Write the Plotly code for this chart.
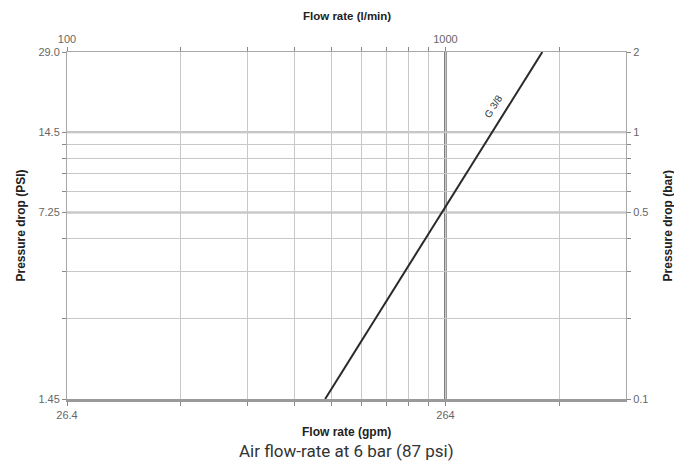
import math
import plotly.graph_objects as go

# ---- data ----
flow_lmin = [481, 1803]          # flow rate, l/min
dp_bar = [0.1, 2.0]              # pressure drop, bar
series_label = "G 3/8"
label_at_bar = 1.25

x_grid_lmin = [100, 200, 300, 400, 500, 600, 700, 800, 900, 1000, 2000]
x_top_text = ["100", "", "", "", "", "", "", "", "", "1000", ""]
x_bottom_text = ["26.4", "", "", "", "", "", "", "", "", "264", ""]
x_range_lmin = [100, 3000]

y_grid_bar = [0.1, 0.2, 0.3, 0.4, 0.5, 0.6, 0.7, 0.8, 0.9, 1, 2]
y_left_text = ["1.45", "", "", "", "7.25", "", "", "", "", "14.5", "29.0"]
y_right_text = ["0.1", "", "", "", "0.5", "", "", "", "", "1", "2"]
y_range_bar = [0.1, 2]

heavy_x = [1000]
medium_y = [0.5, 1]

FONT = "Liberation Sans"
TICK = dict(family=FONT, size=11, color="#666666")
TITLE = dict(family=FONT, size=12, color="#222222")

fig = go.Figure()
fig.add_trace(go.Scatter(x=flow_lmin, y=dp_bar, mode="lines",
                         line=dict(color="#2a2a2a", width=2),
                         hoverinfo="skip", showlegend=False))
# invisible trace to anchor the secondary axes
fig.add_trace(go.Scatter(x=flow_lmin, y=dp_bar, xaxis="x2", yaxis="y2",
                         mode="lines", opacity=0, hoverinfo="skip", showlegend=False))

# heavier gridlines
for xv in heavy_x:
    fig.add_shape(type="line", xref="x", yref="paper", x0=xv, x1=xv, y0=0, y1=1,
                  line=dict(color="#1a1a1a", width=2), layer="between")
for yv in medium_y:
    fig.add_shape(type="line", xref="paper", yref="y", x0=0, x1=1, y0=yv, y1=yv,
                  line=dict(color="#b0b0b0", width=2), layer="between")

# series label along the line
slope = math.log10(dp_bar[1] / dp_bar[0]) / math.log10(flow_lmin[1] / flow_lmin[0])
q_label = flow_lmin[0] * 10 ** (math.log10(label_at_bar / dp_bar[0]) / slope)
fig.add_annotation(x=math.log10(q_label), y=math.log10(label_at_bar), text=series_label,
                   showarrow=False, textangle=-58, xshift=-15,
                   font=dict(family=FONT, size=10, color="#333333"))

common_x = dict(type="log", range=[math.log10(v) for v in x_range_lmin],
                tickvals=x_grid_lmin, ticks="outside", ticklen=4, tickcolor="#888888",
                tickfont=TICK, zeroline=False)
common_y = dict(type="log", range=[math.log10(v) for v in y_range_bar],
                tickvals=y_grid_bar, ticks="outside", ticklen=4, tickcolor="#888888",
                tickfont=TICK, zeroline=False)

# page body has an 8px margin: figure is 674x455 so it fits the 682x463 window
fig.update_layout(
    width=674, height=455,
    margin=dict(l=59, r=56, t=44, b=64),
    paper_bgcolor="white", plot_bgcolor="white",
    showlegend=False,
    xaxis=dict(**common_x, ticktext=x_bottom_text, showgrid=True, gridcolor="#c8c8c8",
               gridwidth=1, showline=True, linecolor="#9a9a9a", linewidth=3),
    xaxis2=dict(**common_x, ticktext=x_top_text, overlaying="x", side="top",
                matches="x", showgrid=False, showline=True, linecolor="#a8a8a8", linewidth=1),
    yaxis=dict(**common_y, ticktext=y_left_text, showgrid=True, gridcolor="#c8c8c8",
               gridwidth=1, showline=True, linecolor="#a8a8a8", linewidth=1),
    yaxis2=dict(**common_y, ticktext=y_right_text, overlaying="y", side="right",
                matches="y", showgrid=False, showline=True, linecolor="#a8a8a8", linewidth=1),
)

fig.add_annotation(xref="paper", yref="paper", x=0.5, y=1.105, yanchor="middle",
                   text="<b>Flow rate (l/min)</b>", showarrow=False,
                   font=dict(family=FONT, size=11.5, color="#222222"))
fig.add_annotation(xref="paper", yref="paper", x=0.5, y=-0.095, yanchor="middle",
                   text="<b>Flow rate (gpm)</b>", showarrow=False, font=TITLE)
fig.add_annotation(xref="paper", yref="paper", x=-0.084, y=0.5, xanchor="center",
                   text="<b>Pressure drop (PSI)</b>", textangle=-90, showarrow=False, font=TITLE)
fig.add_annotation(xref="paper", yref="paper", x=1.075, y=0.5, xanchor="center",
                   text="<b>Pressure drop (bar)</b>", textangle=-90, showarrow=False, font=TITLE)
fig.add_annotation(xref="paper", yref="paper", x=0.5, y=-0.15, yanchor="middle",
                   text="Air flow-rate at 6 bar (87 psi)", showarrow=False,
                   font=dict(family="Roboto", size=17, color="#333333"))

fig.write_html("out.html")
